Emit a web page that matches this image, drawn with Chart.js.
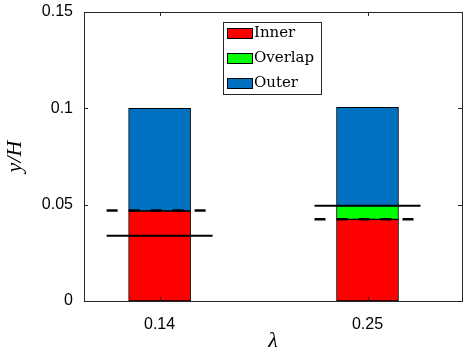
<!DOCTYPE html>
<html>
<head>
<meta charset="utf-8">
<script src="https://cdn.jsdelivr.net/npm/chart.js@4/dist/chart.umd.min.js"></script>
<style>
  html, body { margin: 0; padding: 0; background: #fff; }
  #wrap { width: 465px; height: 355px; }
</style>
</head>
<body>
<div id="wrap"><canvas id="c" width="465" height="355"></canvas></div>
<script>
// Roughness parameter values (x positions of the stacked bars)
const categories = [0.14, 0.25];
// Layer thicknesses in units of y/H, stacked bottom to top
const inner   = [0.0467, 0.0424];
const overlap = [0,      0.0071];
const outer   = [0.0533, 0.0510];
// Reference heights drawn as horizontal markers across each bar
const solidLevel  = [0.0339, 0.0495];
const dashedLevel = [0.0470, 0.0424];
// Axis ticks
const yTicks = [0, 0.05, 0.1, 0.15];
const xTicks = categories;

const seriesNames  = ['Inner', 'Overlap', 'Outer'];
const seriesColors = ['#ff0000', '#00ff00', '#0070c0'];
const axisColor = '#262626';

function points(values) {
  return categories.map((c, i) => ({ x: c, y: values[i] === 0 ? null : values[i] }));
}

const frame = {
  id: 'frame',
  afterDatasetsDraw(chart) {
    const { ctx, chartArea: a, scales: { x, y } } = chart;
    ctx.save();
    // level markers
    const half = 53;
    categories.forEach((c, i) => {
      const cx = x.getPixelForValue(c);
      ctx.strokeStyle = '#000';
      ctx.lineWidth = 2;
      ctx.setLineDash([]);
      let py = y.getPixelForValue(solidLevel[i]);
      ctx.beginPath(); ctx.moveTo(cx - half, py); ctx.lineTo(cx + half, py); ctx.stroke();
      ctx.lineWidth = 2.5;
      ctx.setLineDash([11, 11]);
      py = y.getPixelForValue(dashedLevel[i]);
      ctx.beginPath(); ctx.moveTo(cx - half, py); ctx.lineTo(cx + half, py); ctx.stroke();
    });
    ctx.setLineDash([]);
    // axes box
    ctx.strokeStyle = axisColor;
    ctx.lineWidth = 1;
    ctx.strokeRect(Math.round(a.left) + 0.5, Math.round(a.top) + 0.5,
                   Math.round(a.right - a.left), Math.round(a.bottom - a.top));
    // inward tick marks
    const tl = 4;
    ctx.beginPath();
    yTicks.forEach(v => {
      const py = Math.round(y.getPixelForValue(v)) + 0.5;
      ctx.moveTo(a.left, py); ctx.lineTo(a.left + tl, py);
      ctx.moveTo(a.right, py); ctx.lineTo(a.right - tl, py);
    });
    xTicks.forEach(v => {
      const px = Math.round(x.getPixelForValue(v)) + 0.5;
      ctx.moveTo(px, a.bottom); ctx.lineTo(px, a.bottom - tl);
      ctx.moveTo(px, a.top); ctx.lineTo(px, a.top + tl);
    });
    ctx.stroke();
    ctx.restore();
  },
  afterDraw(chart) {
    // legend box
    const { ctx } = chart;
    const bx = 223, by = 22, bw = 98, bh = 72, rowH = 25;
    ctx.save();
    ctx.fillStyle = '#fff';
    ctx.fillRect(bx, by, bw, bh);
    ctx.strokeStyle = axisColor;
    ctx.lineWidth = 1;
    ctx.strokeRect(bx + 0.5, by + 0.5, bw, bh);
    ctx.font = '15px "DejaVu Serif"';
    ctx.textBaseline = 'middle';
    chart.data.datasets.forEach((ds, i) => {
      const cy = by + 11 + i * rowH;
      ctx.fillStyle = ds.backgroundColor;
      ctx.fillRect(bx + 4, cy - 5, 25, 10);
      ctx.strokeStyle = '#000';
      ctx.strokeRect(bx + 4.5, cy - 4.5, 25, 10);
      ctx.fillStyle = '#000';
      ctx.fillText(ds.label, bx + 31, cy + 0.5);
    });
    ctx.restore();
  }
};

new Chart(document.getElementById('c'), {
  type: 'bar',
  data: {
    datasets: [inner, overlap, outer].map((vals, i) => ({
      label: seriesNames[i],
      data: points(vals),
      backgroundColor: seriesColors[i],
      borderColor: '#000',
      borderWidth: 1,
      borderSkipped: false,
      barThickness: 62
    }))
  },
  options: {
    responsive: false,
    animation: false,
    layout: { padding: { top: 12, right: 3, left: 0, bottom: 0 } },
    plugins: { legend: { display: false }, tooltip: { enabled: false } },
    scales: {
      x: {
        type: 'linear',
        min: 0.1, max: 0.3,
        stacked: true,
        offset: false,
        grid: { display: false, drawTicks: false },
        border: { display: false },
        afterBuildTicks: s => { s.ticks = xTicks.map(v => ({ value: v })); },
        afterFit: s => { s.height = 54; s.paddingLeft = 0; s.paddingRight = 0; },
        ticks: {
          color: '#000',
          padding: 14,
          font: { family: '"Liberation Sans", Arial, sans-serif', size: 16 },
          callback: v => String(v)
        },
        title: {
          display: true,
          text: 'λ',
          color: '#000',
          padding: { top: 0, bottom: 1 },
          font: { family: '"Liberation Serif", serif', style: 'italic', size: 22 }
        }
      },
      y: {
        min: 0, max: 0.15,
        stacked: true,
        grid: { display: false, drawTicks: false },
        border: { display: false },
        afterBuildTicks: s => { s.ticks = yTicks.map(v => ({ value: v })); },
        afterFit: s => { s.width = 84; s.paddingTop = 0; s.paddingBottom = 0; },
        ticks: {
          color: '#000',
          padding: 11,
          font: { family: '"Liberation Sans", Arial, sans-serif', size: 16 },
          callback: v => String(v)
        },
        title: {
          display: true,
          text: 'y/H',
          color: '#000',
          padding: { top: 2, bottom: 0 },
          font: { family: '"Liberation Serif", serif', style: 'italic', size: 22 }
        }
      }
    }
  },
  plugins: [frame]
});
</script>
</body>
</html>
